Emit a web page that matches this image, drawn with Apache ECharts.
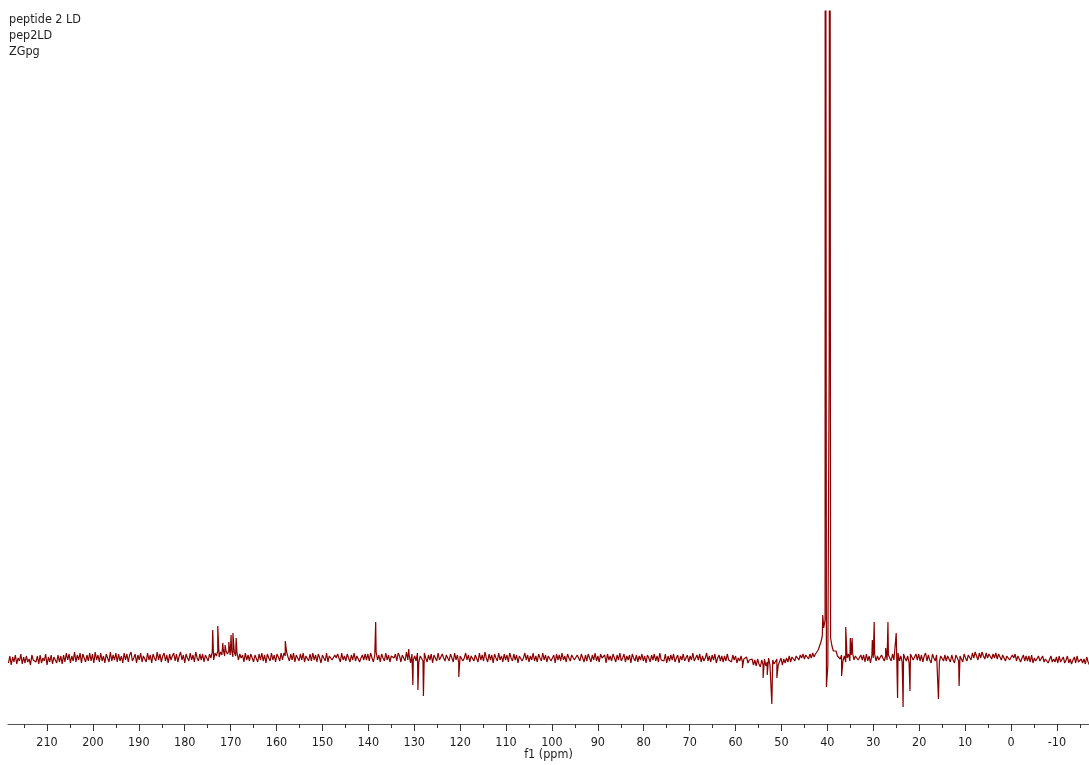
<!DOCTYPE html>
<html>
<head>
<meta charset="utf-8">
<title>peptide 2 LD – 13C</title>
<script src="https://cdn.jsdelivr.net/npm/echarts@6/dist/echarts.min.js"></script>
<style>
  html, body { margin: 0; padding: 0; background: #fff; }
  #chart { width: 1089px; height: 765px; }
</style>
</head>
<body>
<div id="chart"></div>
<script>
// Sample header lines
const headerLines = ['peptide 2 LD', 'pep2LD', 'ZGpg'];
const axisName = 'f1 (ppm)';

// Chemical-shift axis
const ppmMin = -17;
const ppmMax = 218.5;
const majorTicks = [210, 200, 190, 180, 170, 160, 150, 140, 130, 120, 110, 100, 90, 80, 70, 60, 50, 40, 30, 20, 10, 0, -10];
const minorTicks = [215, 205, 195, 185, 175, 165, 155, 145, 135, 125, 115, 105, 95, 85, 75, 65, 55, 45, 35, 25, 15, 5, -5, -15];

// Intensity window (baseline at 0, solvent lines run off the top)
const intensityMin = -66;
const intensityMax = 647;

// Spectrum trace sampled every 0.3 ppm starting at 218.4 ppm (rows of 6 ppm)
const traceStart = 218.4;
const traceStep = 0.3;
const trace = [
  -5,2,-7,1,-4,3,-6,0,-3,4,-6,1,-5,2,-4,-1,-7,3,-2,0,
  -4,2,-6,3,-5,0,-3,4,-7,1,-4,3,-6,1,-2,-5,3,-4,2,-6,
  3,-4,5,-2,4,-5,2,-3,6,-4,3,-2,5,-5,4,0,-4,3,-3,5,
  -3,4,-5,6,-2,3,-4,5,-3,2,-5,4,0,-4,6,-3,3,-2,5,-4,
  4,-3,2,-5,5,-2,4,-4,3,6,-3,0,4,-5,3,-2,5,-4,2,3,
  -4,5,-2,3,-5,4,0,-3,6,-2,4,-4,2,5,-3,3,-5,4,-2,2,
  5,-3,4,-4,2,6,-2,3,-5,4,0,-3,5,-2,3,-4,6,0,-3,4,
  -2,4,-4,3,5,-3,4,0,6,-2,5,2,7,1,6,3,8,2,7,4,
  7,3,8,1,6,2,5,-2,4,0,3,-4,5,-2,3,-3,4,0,-4,3,
  2,-4,4,-2,5,-3,3,-5,4,0,-3,5,-2,3,-4,4,1,-3,5,-2,
  5,2,6,1,-3,4,-2,5,-4,3,0,-3,4,-2,5,-4,2,3,-3,4,
  -3,5,-2,3,-4,4,0,-5,3,1,-3,5,-4,2,4,-2,-4,3,0,4,
  3,-4,5,-2,2,-3,4,0,-4,3,-2,5,-3,2,4,-4,0,3,-2,4,
  -2,4,-3,5,0,-4,3,6,-2,3,-4,4,0,-3,5,-2,3,-4,2,4,
  0,4,-3,5,2,-4,3,0,-3,6,-2,3,-5,4,-2,2,-3,5,-4,2,
  4,-3,5,0,-4,3,-2,4,-5,3,2,-3,5,-2,-4,4,0,-3,3,2,
  -3,4,0,-4,5,-2,3,-5,2,4,-3,0,5,-2,3,-4,2,4,-3,3,
  2,-4,5,-2,3,-3,6,0,-4,4,-2,3,-5,4,0,-3,5,-2,2,-4,
  4,-2,3,-4,5,0,-3,4,-2,3,-5,2,4,-3,0,5,-2,3,-4,2,
  -2,5,-3,2,-4,4,0,-3,5,-2,3,-4,2,4,-3,0,3,-5,4,-2,
  3,-3,5,-2,2,-4,4,0,-3,3,5,-2,-4,3,0,-3,4,2,-4,3,
  -3,4,0,-4,3,-2,5,-3,2,-4,4,0,-2,3,-5,4,-2,2,-3,4,
  2,-4,3,-2,5,-3,0,4,-4,2,-2,3,-5,4,0,-3,3,-4,2,-2,
  4,-3,2,-5,3,0,-4,3,-2,4,-3,2,-4,5,-2,0,-3,4,-5,2,
  -3,3,-2,4,-4,0,3,-5,2,-2,4,-3,0,3,-4,2,-2,5,-3,0,
  3,-2,4,-4,2,-3,0,5,-3,2,-4,3,-2,4,-5,0,3,-3,2,-4,
  2,-3,4,-2,0,-4,3,-2,2,-5,0,-3,2,-4,-1,-3,1,-5,-2,-4,
  -1,-7,-2,-8,-1,-6,-9,-2,-7,-1,-8,-4,0,-7,-9,-2,-6,-8,-1,-7,
  -5,0,-7,-1,-5,0,-4,2,-4,1,3,-3,2,4,-2,3,0,4,-1,3,
  3,-1,4,0,5,1,4,5,8,12,16,22,30,38,-29,-8,300,20,12,7,
  5,7,2,4,-1,3,-3,2,-4,0,4,-3,3,5,-2,2,4,-2,-3,3,
  -2,3,-4,4,-3,2,-5,3,0,4,-3,2,-2,-4,3,5,-3,2,-2,3,
  3,-3,4,-2,-4,3,5,-3,2,-4,4,0,-3,2,-5,4,2,-2,-3,4,
  -2,4,-3,3,-4,2,5,-3,3,-2,-5,4,0,-3,3,4,-4,2,0,-3,
  3,-3,2,4,-4,3,-2,-5,3,4,-3,2,3,-4,4,0,-3,3,5,-2,
  5,0,6,2,-2,5,0,6,2,-1,5,0,4,6,-1,4,0,5,-1,4,
  4,-2,3,5,-3,2,4,-2,-3,3,0,4,-3,2,3,-4,0,3,-3,2,
  -3,2,-4,3,-5,0,-3,-4,2,-3,-5,2,-4,-1,0,-5,-3,2,-4,-1,
  -4,1,-5,2,-4,-6,1,-5,-2,2,-5,-1,-6,-2,1,-5,2,-4,-6,-1,
  -5,-1,-6,1,-4,-7,-2,-5,-6,0,-5,-2,-6,-3,0,-7,-4,1,-6,-2
];

// Narrow resonances [ppm, intensity]; negative = inverted lines
const peaks = [
  [173.9, 28], [172.8, 32], [171.7, 15], [171.2, 13], [170.4, 16], [169.9, 23], [169.5, 25], [168.8, 20],
  [158.1, 17],
  [138.4, 36],
  [131.2, 9], [130.3, -27], [129.2, -32], [128.0, -38],
  [120.3, -19],
  [58.5, -10],
  [54.0, -20], [53.1, -17], [52.1, -46], [51.0, -20],
  [41.0, 43], [40.45, 1500], [39.5, 1500],
  [36.9, -18], [36.0, 31], [35.0, 20], [34.6, 20],
  [30.2, 18], [29.8, 36], [27.3, 10], [26.8, 36],
  [25.0, 25], [24.7, -40], [23.5, -49], [22.0, -33],
  [15.8, -41], [11.3, -28]
];

// Merge sampled trace and narrow lines into one ordered polyline
const spectrum = trace
  .map((v, i) => [Math.round((traceStart - i * traceStep) * 100) / 100, v])
  .concat(peaks)
  .sort((a, b) => b[0] - a[0]);

const textFont = 'DejaVu Sans Condensed, DejaVu Sans, sans-serif';
const gridBox = { left: 8, right: 0, top: 11, bottom: 41, outerBoundsMode: 'none', containLabel: false };

const chart = echarts.init(document.getElementById('chart'), null, { renderer: 'canvas' });
chart.setOption({
  animation: false,
  backgroundColor: '#ffffff',
  title: {
    text: headerLines.join('\n'),
    left: 9,
    top: 12,
    padding: 0,
    textStyle: {
      fontFamily: textFont,
      fontSize: 12.5,
      lineHeight: 16,
      fontWeight: 'normal',
      color: '#1e1e1e'
    }
  },
  grid: [Object.assign({}, gridBox), Object.assign({}, gridBox)],
  xAxis: [
    {
      type: 'value',
      gridIndex: 0,
      min: ppmMin,
      max: ppmMax,
      inverse: true,
      position: 'bottom',
      axisLine: { show: true, onZero: false, lineStyle: { color: '#555555', width: 1 } },
      axisTick: { show: true, customValues: majorTicks, length: 7, lineStyle: { color: '#333333', width: 1 } },
      axisLabel: {
        customValues: majorTicks,
        margin: 12,
        fontFamily: textFont,
        fontSize: 12.5,
        color: '#1e1e1e'
      },
      splitLine: { show: false },
      name: axisName,
      nameLocation: 'middle',
      nameGap: 24,
      nameMoveOverlap: false,
      nameTextStyle: { fontFamily: textFont, fontSize: 12.5, color: '#1e1e1e' }
    },
    {
      type: 'value',
      gridIndex: 1,
      min: ppmMin,
      max: ppmMax,
      inverse: true,
      position: 'bottom',
      axisLine: { show: false, onZero: false },
      axisTick: { show: true, customValues: minorTicks, length: 4, lineStyle: { color: '#333333', width: 1 } },
      axisLabel: { show: false },
      splitLine: { show: false }
    }
  ],
  yAxis: [
    { type: 'value', gridIndex: 0, min: intensityMin, max: intensityMax, show: false },
    { type: 'value', gridIndex: 1, min: intensityMin, max: intensityMax, show: false }
  ],
  series: [
    {
      type: 'line',
      xAxisIndex: 0,
      yAxisIndex: 0,
      data: spectrum,
      symbol: 'none',
      showSymbol: false,
      clip: true,
      sampling: null,
      lineStyle: { color: '#8b0000', width: 1.2 },
      emphasis: { disabled: true }
    }
  ]
});
</script>
</body>
</html>
